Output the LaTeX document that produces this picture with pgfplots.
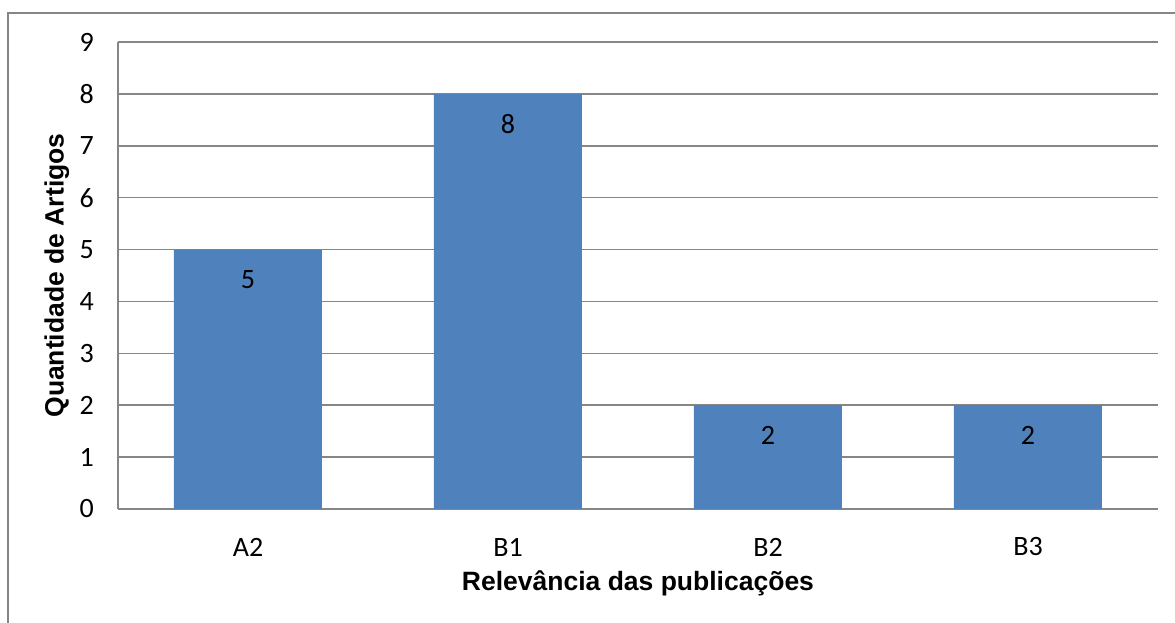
\documentclass[border=0pt]{standalone}
\usepackage{pgfplots}
\pgfplotsset{compat=1.18}
\usepackage{fontspec}
\setmainfont{Carlito}
\newfontfamily\titlefont{Liberation Sans}
\definecolor{barblue}{HTML}{4F81BD}
\definecolor{gridgray}{HTML}{868686}

\begin{document}
\begin{tikzpicture}[x=1pt,y=1pt]
\path[use as bounding box] (0,0) rectangle (1175,623);
% chart area frame (left and top edges)
\draw[gridgray, line width=1.8pt] (8,-2) -- (8,610) -- (1177,610);
\begin{axis}[
  at={(118pt,114pt)}, anchor=south west,
  scale only axis, width=1040pt, height=467pt,
  xmin=-0.5, xmax=3.5, ymin=0, ymax=9,
  ytick={0,...,9},
  xtick={0,1,2,3}, xticklabels={A2,B1,B2,B3},
  axis x line*=bottom, axis y line*=left,
  axis line style={gridgray, line width=1.5pt, -},
  major tick length=0pt,
  ymajorgrids, grid style={gridgray, line width=1.5pt},
  ybar, bar width=148pt,
  /pgf/number format/assume math mode=true,
  tick label style={font=\fontsize{28}{32}\selectfont, text=black},
  yticklabel style={anchor=east, inner sep=0pt, xshift=-24pt},
  xticklabel style={anchor=center, inner sep=0pt, yshift=-38pt},
  nodes near coords,
  nodes near coords style={anchor=center, yshift=-30pt, font=\fontsize{28}{32}\selectfont, text=black},
  xlabel={Relevância das publicações},
  ylabel={Quantidade de Artigos},
  xlabel style={at={(axis description cs:0.5,-0.1585)}, anchor=center},
  ylabel style={at={(axis description cs:-0.0587,0.5)}, anchor=center},
  label style={font=\titlefont\bfseries\fontsize{26.5}{30}\selectfont},
]
\addplot[fill=barblue, draw=none] coordinates {(0,5) (1,8) (2,2) (3,2)};
\end{axis}
\end{tikzpicture}
\end{document}
